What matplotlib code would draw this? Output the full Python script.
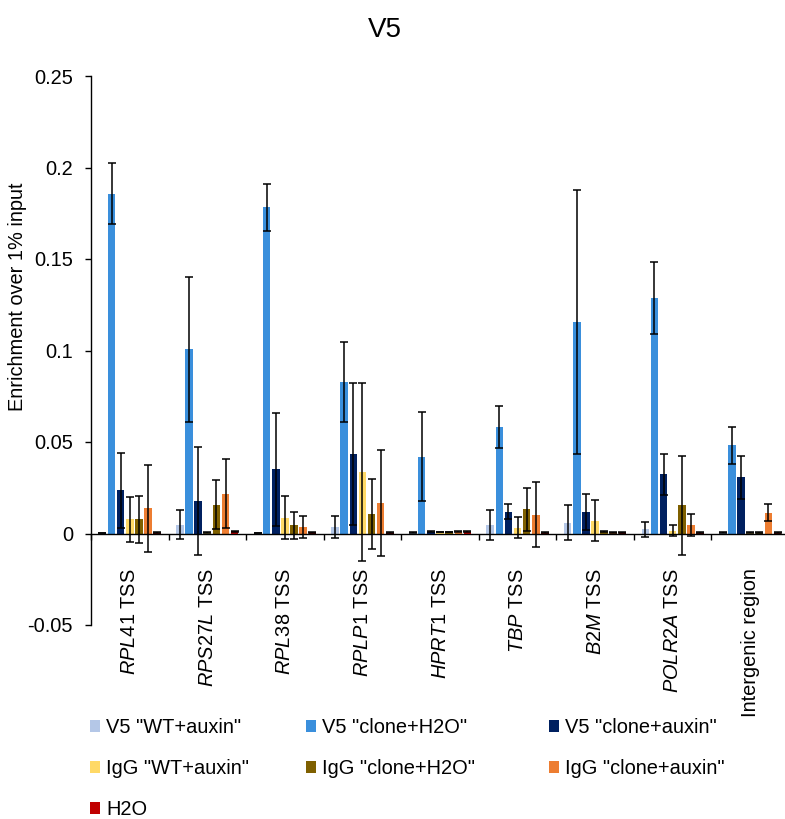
import numpy as np
import matplotlib
matplotlib.use("Agg")
import matplotlib.pyplot as plt
from matplotlib.patches import Patch
from matplotlib.ticker import FixedLocator, FixedFormatter

plt.rcParams["font.family"] = ["Liberation Sans", "DejaVu Sans"]
plt.rcParams["mathtext.fontset"] = "custom"
plt.rcParams["mathtext.rm"] = "Liberation Sans"
plt.rcParams["mathtext.it"] = "Liberation Sans:italic"

# ---- data -------------------------------------------------------------
categories = [r"$\mathit{RPL41}$ TSS", r"$\mathit{RPS27L}$ TSS", r"$\mathit{RPL38}$ TSS",
              r"$\mathit{RPLP1}$ TSS", r"$\mathit{HPRT1}$ TSS", r"$\mathit{TBP}$ TSS",
              r"$\mathit{B2M}$ TSS", r"$\mathit{POLR2A}$ TSS", "Intergenic region"]

series_names = ['V5 "WT+auxin"', 'V5 "clone+H2O"', 'V5 "clone+auxin"',
                'IgG "WT+auxin"', 'IgG "clone+H2O"', 'IgG "clone+auxin"', 'H2O']

v5_wt_auxin = [0.0003, 0.0049, 0.0003, 0.0035, 0.0005, 0.0049, 0.0060, 0.0022, 0.0004]
v5_clone_h2o = [0.1857, 0.1007, 0.1782, 0.0826, 0.0420, 0.0581, 0.1155, 0.1288, 0.0481]
v5_clone_auxin = [0.0236, 0.0177, 0.0351, 0.0435, 0.0010, 0.0119, 0.0117, 0.0325, 0.0307]
igg_wt_auxin = [0.0077, 0.0005, 0.0086, 0.0336, 0.0008, 0.0031, 0.0071, 0.0016, 0.0004]
igg_clone_h2o = [0.0077, 0.0157, 0.0044, 0.0108, 0.0008, 0.0132, 0.0010, 0.0155, 0.0004]
igg_clone_auxin = [0.0137, 0.0218, 0.0035, 0.0166, 0.0009, 0.0103, 0.0006, 0.0046, 0.0113]
h2o = [0.0005, 0.0013, 0.0006, 0.0005, 0.0009, 0.0005, 0.0006, 0.0005, 0.0004]

v5_wt_auxin_err = [0.0002, 0.0078, 0.0002, 0.0062, 0.0002, 0.0082, 0.0096, 0.0041, 0.0002]
v5_clone_h2o_err = [0.0165, 0.0396, 0.0127, 0.0218, 0.0243, 0.0115, 0.0721, 0.0197, 0.0099]
v5_clone_auxin_err = [0.0205, 0.0297, 0.0310, 0.0390, 0.0003, 0.0042, 0.0099, 0.0112, 0.0117]
igg_wt_auxin_err = [0.0125, 0.0002, 0.0118, 0.0485, 0.0002, 0.0057, 0.0114, 0.0028, 0.0002]
igg_clone_h2o_err = [0.0130, 0.0133, 0.0072, 0.0192, 0.0002, 0.0116, 0.0003, 0.0270, 0.0002]
igg_clone_auxin_err = [0.0237, 0.0188, 0.0060, 0.0290, 0.0002, 0.0178, 0.0002, 0.0058, 0.0046]
h2o_err = [0.0002, 0.0003, 0.0002, 0.0002, 0.0002, 0.0002, 0.0002, 0.0002, 0.0002]

series_colors = ["#B4C7E7", "#3A8FDC", "#002060", "#FFD966", "#7F6000", "#ED7D31", "#C00000"]

y_ticks = [-0.05, 0, 0.05, 0.1, 0.15, 0.2, 0.25]
y_tick_labels = ["-0.05", "0", "0.05", "0.1", "0.15", "0.2", "0.25"]

values = [v5_wt_auxin, v5_clone_h2o, v5_clone_auxin, igg_wt_auxin,
          igg_clone_h2o, igg_clone_auxin, h2o]
errors = [v5_wt_auxin_err, v5_clone_h2o_err, v5_clone_auxin_err, igg_wt_auxin_err,
          igg_clone_h2o_err, igg_clone_auxin_err, h2o_err]

# ---- figure -----------------------------------------------------------
W, H = 785, 819
fig = plt.figure(figsize=(W / 100, H / 100), dpi=100)
ax_left, ax_right, ax_top, ax_bottom = 91, 789, 76, 625
ax = fig.add_axes([ax_left / W, 1 - ax_bottom / H,
                   (ax_right - ax_left) / W, (ax_bottom - ax_top) / H])

n_groups = len(categories)
n_series = len(values)
x = np.arange(n_groups)
pitch = 0.1177
bar_w = 0.0967

for k in range(n_series):
    xs = x + (k - (n_series - 1) / 2) * pitch
    ax.bar(xs, values[k], width=bar_w, color=series_colors[k], edgecolor="none",
           label=series_names[k], zorder=2)
    ax.errorbar(xs, values[k], yerr=errors[k], fmt="none", ecolor="black",
                elinewidth=1.1, capsize=2.8, capthick=1.1, zorder=3)

ax.set_xlim(-0.5, n_groups - 0.5)
ax.set_ylim(-0.05, 0.25)

# spines
for s in ("top", "right"):
    ax.spines[s].set_visible(False)
ax.spines["left"].set_linewidth(1.0)
ax.spines["bottom"].set_linewidth(1.0)
ax.spines["bottom"].set_position(("data", 0))

ax.yaxis.set_major_locator(FixedLocator(y_ticks))
ax.yaxis.set_major_formatter(FixedFormatter(y_tick_labels))
ax.tick_params(axis="y", direction="out", length=4.5, width=1.0, pad=8.5,
               labelsize=14.4)

ax.set_xticks(x)
ax.set_xticklabels(categories, rotation=90, ha="center", va="top", fontsize=14.4)
ax.set_xticks(np.arange(n_groups + 1) - 0.5, minor=True)
ax.tick_params(axis="x", which="major", length=0, pad=25)
ax.tick_params(axis="x", which="minor", direction="out", length=4.5, width=1.0)

fig.text(18 / W, 1 - 297 / H, "Enrichment over 1% input", rotation=90,
         ha="center", va="center", fontsize=14.4)
fig.text(385 / W, 1 - 30 / H, "V5", ha="center", va="center", fontsize=20)

# legend laid out in three equal columns
handles = [Patch(facecolor=c, edgecolor="none") for c in series_colors]
columns = [[0, 3, 6], [1, 4], [2, 5]]
col_x = [90, 306, 549]
for cx, idx in zip(col_x, columns):
    fig.legend([handles[i] for i in idx], [series_names[i] for i in idx],
               loc="upper left", bbox_to_anchor=(cx / W, 1 - 718 / H),
               frameon=False, fontsize=14.4, handlelength=0.5, handleheight=0.5,
               handletextpad=0.3, labelspacing=1.1, borderaxespad=0, borderpad=0)

fig.savefig("out.png", dpi=100)
